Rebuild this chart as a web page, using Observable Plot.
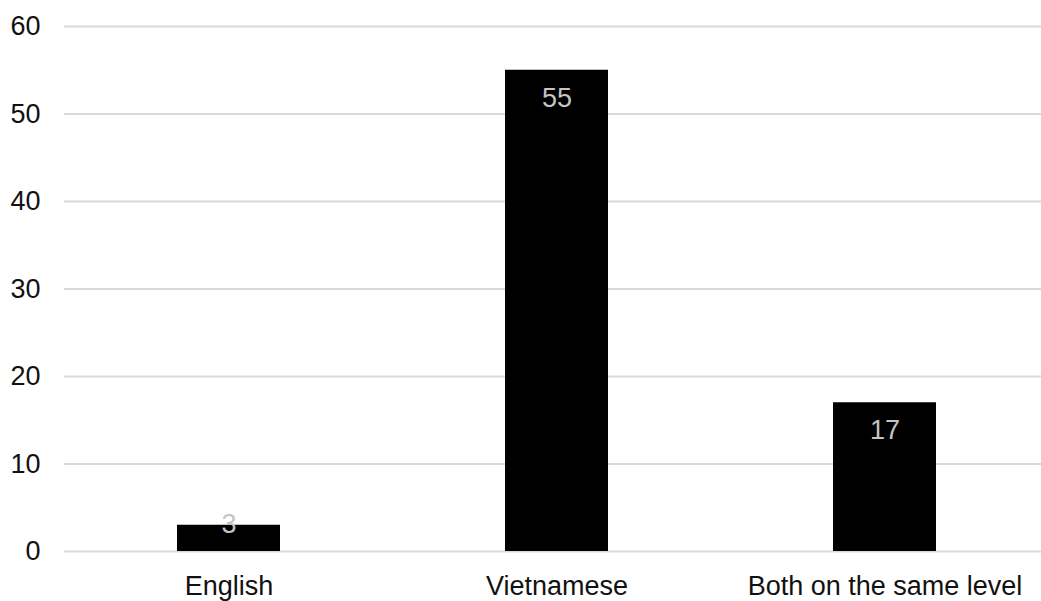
<!DOCTYPE html>
<html>
<head>
<meta charset="utf-8">
<script src="https://cdn.jsdelivr.net/npm/d3@7"></script>
<script src="https://cdn.jsdelivr.net/npm/@observablehq/plot@0.6"></script>
<style>
  html, body { margin: 0; padding: 0; background: #fff; }
  #chart svg { display: block; }
</style>
</head>
<body>
<div id="chart"></div>
<script>
// Which language respondents rated higher
const categories = ["English", "Vietnamese", "Both on the same level"];
const counts = [3, 55, 17];
const yTicks = [0, 10, 20, 30, 40, 50, 60];

const data = categories.map((c, i) => ({category: c, count: counts[i]}));

const font = "'Liberation Sans', Arial, Helvetica, sans-serif";
const fs = 27;

const chart = Plot.plot({
  width: 1041,
  height: 601,
  marginLeft: 64,
  marginRight: 0,
  marginTop: 26,
  marginBottom: 50,
  style: {fontFamily: font, fontSize: fs + "px", color: "#111", background: "#fff"},
  x: {domain: categories, range: [64.4, 1049], paddingInner: 0.686, paddingOuter: 0.343, label: null},
  y: {domain: [0, 60], label: null},
  marks: [
    Plot.ruleY(yTicks, {stroke: "#d9d9d9", strokeWidth: 2}),
    Plot.barY(data, {x: "category", y: "count", fill: "#000"}),
    // value labels: inside the top of tall bars, above short ones
    Plot.text(data.filter(d => d.count >= 10), {
      x: "category", y: "count", text: d => String(d.count),
      dy: 28, fill: "#c4c4c4", fontSize: fs, fontFamily: font
    }),
    Plot.text(data.filter(d => d.count < 10), {
      x: "category", y: "count", text: d => String(d.count),
      dy: -1, fill: "#c4c4c4", fontSize: fs, fontFamily: font
    }),
    Plot.axisY({ticks: yTicks, tickSize: 0, tickPadding: 24, fontSize: fs, label: null}),
    Plot.axisX({tickSize: 0, tickPadding: 24, fontSize: fs, label: null})
  ]
});

document.getElementById("chart").appendChild(chart);
</script>
</body>
</html>
